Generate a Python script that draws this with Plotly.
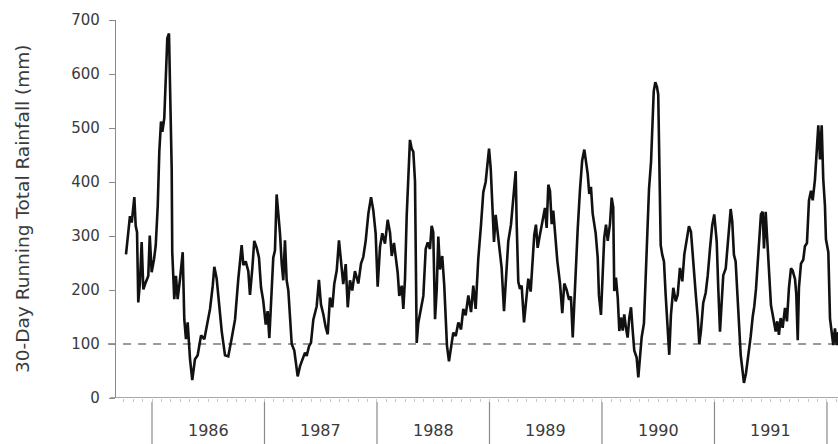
import plotly.graph_objects as go

# 30-day running rainfall totals, sampled along the record (decimal year, mm)
year_pos = [
    1985.769, 1985.804, 1985.820, 1985.843, 1985.855, 1985.867, 1985.878, 1985.893,
    1985.908, 1985.923, 1985.944, 1985.967, 1985.980, 1985.997, 1986.018, 1986.033,
    1986.051, 1986.065, 1986.080, 1986.092, 1986.109, 1986.122, 1986.136, 1986.151,
    1986.160, 1986.175, 1986.180, 1986.189, 1986.198, 1986.213, 1986.228, 1986.249,
    1986.273, 1986.287, 1986.302, 1986.317, 1986.338, 1986.358, 1986.382, 1986.406,
    1986.436, 1986.465, 1986.486, 1986.516, 1986.540, 1986.554, 1986.575, 1986.596,
    1986.620, 1986.649, 1986.678, 1986.708, 1986.738, 1986.767, 1986.797, 1986.812,
    1986.833, 1986.856, 1986.871, 1986.892, 1986.909, 1986.931, 1986.951, 1986.969,
    1986.989, 1987.011, 1987.028, 1987.043, 1987.064, 1987.078, 1987.093, 1987.108,
    1987.123, 1987.138, 1987.153, 1987.167, 1987.182, 1987.197, 1987.212, 1987.227,
    1987.242, 1987.265, 1987.280, 1987.295, 1987.316, 1987.340, 1987.360, 1987.375,
    1987.396, 1987.413, 1987.434, 1987.464, 1987.484, 1987.502, 1987.523, 1987.544,
    1987.562, 1987.582, 1987.603, 1987.620, 1987.642, 1987.662, 1987.680, 1987.700,
    1987.722, 1987.740, 1987.760, 1987.780, 1987.804, 1987.834, 1987.858, 1987.878,
    1987.900, 1987.923, 1987.947, 1987.967, 1987.988, 1988.006, 1988.027, 1988.047,
    1988.071, 1988.095, 1988.116, 1988.131, 1988.151, 1988.166, 1988.184, 1988.198,
    1988.220, 1988.234, 1988.249, 1988.264, 1988.278, 1988.293, 1988.308, 1988.323,
    1988.338, 1988.347, 1988.353, 1988.367, 1988.382, 1988.397, 1988.412, 1988.433,
    1988.451, 1988.471, 1988.486, 1988.500, 1988.516, 1988.531, 1988.545, 1988.560,
    1988.580, 1988.598, 1988.611, 1988.622, 1988.640, 1988.658, 1988.678, 1988.700,
    1988.723, 1988.747, 1988.767, 1988.788, 1988.812, 1988.836, 1988.856, 1988.877,
    1988.900, 1988.924, 1988.945, 1988.966, 1988.984, 1988.996, 1989.011, 1989.025,
    1989.040, 1989.055, 1989.073, 1989.093, 1989.108, 1989.129, 1989.147, 1989.167,
    1989.191, 1989.209, 1989.220, 1989.233, 1989.242, 1989.256, 1989.271, 1989.286,
    1989.307, 1989.324, 1989.345, 1989.366, 1989.380, 1989.398, 1989.413, 1989.428,
    1989.449, 1989.473, 1989.493, 1989.508, 1989.523, 1989.538, 1989.553, 1989.567,
    1989.582, 1989.603, 1989.627, 1989.647, 1989.665, 1989.686, 1989.707, 1989.724,
    1989.740, 1989.760, 1989.784, 1989.804, 1989.824, 1989.843, 1989.858, 1989.873,
    1989.887, 1989.902, 1989.917, 1989.932, 1989.944, 1989.962, 1989.973, 1989.991,
    1990.003, 1990.020, 1990.036, 1990.051, 1990.071, 1990.086, 1990.100, 1990.109,
    1990.124, 1990.140, 1990.154, 1990.169, 1990.184, 1990.198, 1990.213, 1990.228,
    1990.243, 1990.258, 1990.273, 1990.287, 1990.308, 1990.323, 1990.338, 1990.353,
    1990.373, 1990.388, 1990.403, 1990.418, 1990.436, 1990.447, 1990.460, 1990.474,
    1990.489, 1990.500, 1990.509, 1990.522, 1990.536, 1990.551, 1990.566, 1990.584,
    1990.598, 1990.613, 1990.634, 1990.655, 1990.673, 1990.693, 1990.714, 1990.732,
    1990.753, 1990.773, 1990.791, 1990.803, 1990.820, 1990.836, 1990.851, 1990.865,
    1990.880, 1990.900, 1990.922, 1990.940, 1990.960, 1990.980, 1990.998, 1991.020,
    1991.034, 1991.049, 1991.064, 1991.078, 1991.100, 1991.117, 1991.129, 1991.144,
    1991.158, 1991.173, 1991.188, 1991.203, 1991.218, 1991.233, 1991.247, 1991.262,
    1991.280, 1991.300, 1991.322, 1991.340, 1991.354, 1991.369, 1991.384, 1991.398,
    1991.413, 1991.428, 1991.440, 1991.455, 1991.469, 1991.484, 1991.502, 1991.523,
    1991.544, 1991.558, 1991.573, 1991.588, 1991.606, 1991.627, 1991.644, 1991.662,
    1991.680, 1991.695, 1991.716, 1991.727, 1991.740, 1991.751, 1991.769, 1991.789,
    1991.804, 1991.822, 1991.840, 1991.858, 1991.873, 1991.893, 1991.908, 1991.923,
    1991.938, 1991.953, 1991.967, 1991.982, 1991.991, 1992.012, 1992.027, 1992.042,
    1992.056, 1992.071, 1992.086, 1992.100,
]
rain_mm = [
    266, 337, 325, 372, 319, 307, 177, 214,
    289, 201, 214, 226, 301, 233, 257, 282,
    356, 456, 512, 493, 518, 592, 666, 675,
    598, 425, 270, 220, 183, 226, 183, 220,
    270, 146, 109, 140, 72, 33, 72, 79,
    116, 109, 134, 165, 208, 243, 221, 172,
    123, 79, 77, 110, 145, 220, 283, 246,
    253, 235, 191, 241, 291, 278, 260, 205,
    180, 136, 161, 111, 205, 260, 273, 377,
    341, 304, 249, 218, 292, 218, 199, 150,
    100, 88, 64, 40, 59, 72, 84, 78,
    96, 102, 145, 170, 219, 173, 155, 131,
    118, 186, 168, 211, 236, 292, 248, 211,
    248, 168, 218, 199, 235, 212, 249, 261,
    292, 341, 372, 348, 305, 206, 280, 305,
    286, 330, 306, 263, 287, 257, 232, 189,
    208, 165, 220, 337, 418, 478, 462, 456,
    401, 246, 102, 139, 158, 177, 189, 276,
    288, 276, 319, 307, 146, 201, 299, 238,
    263, 208, 153, 97, 68, 97, 121, 115,
    140, 127, 165, 153, 190, 159, 208, 165,
    257, 319, 381, 400, 431, 462, 425, 351,
    289, 339, 302, 272, 241, 161, 229, 290,
    321, 359, 383, 420, 321, 215, 202, 208,
    140, 184, 221, 197, 247, 302, 321, 278,
    303, 327, 352, 315, 395, 383, 322, 347,
    303, 254, 212, 157, 212, 200, 182, 188,
    112, 219, 312, 384, 440, 460, 440, 415,
    378, 391, 342, 324, 305, 260, 190, 154,
    220, 297, 321, 291, 322, 371, 353, 198,
    223, 186, 124, 149, 125, 155, 130, 112,
    149, 168, 125, 88, 75, 38, 76, 113,
    138, 213, 312, 387, 437, 499, 568, 585,
    576, 562, 438, 283, 265, 253, 191, 135,
    80, 154, 204, 179, 191, 241, 216, 266,
    295, 318, 308, 272, 235, 186, 149, 100,
    125, 176, 195, 227, 276, 320, 340, 289,
    202, 123, 177, 227, 240, 289, 308, 350,
    327, 265, 253, 191, 129, 80, 55, 28,
    46, 77, 114, 151, 170, 202, 252, 302,
    340, 345, 277, 345, 296, 228, 172, 148,
    123, 142, 117, 148, 130, 167, 142, 204,
    240, 236, 220, 193, 107, 205, 249, 256,
    281, 287, 366, 384, 366, 404, 460, 505,
    442, 505, 405, 356, 294, 270, 147, 122,
    98, 129, 98, 122,
]

y_ticks = [0, 100, 200, 300, 400, 500, 600, 700]
year_labels = ["1986", "1987", "1988", "1989", "1990", "1991"]
year_bounds = [1986, 1987, 1988, 1989, 1990, 1991, 1992]
threshold_mm = 100

FONT = "DejaVu Sans"
TEXT = "#3a3a3a"
AXIS = "#8a8a8a"

x_range = [1985.68, 1992.098]
plot_h = 378.0

fig = go.Figure()
fig.add_trace(go.Scatter(
    x=year_pos, y=rain_mm, mode="lines",
    line=dict(color="#111111", width=2.6),
    hoverinfo="skip", showlegend=False,
))

shapes = [
    # dashed 100 mm reference level
    dict(type="line", xref="paper", yref="y", x0=-0.011, x1=1,
         y0=threshold_mm, y1=threshold_mm,
         line=dict(color="#7a7a7a", width=1.5, dash="8px,7px"), layer="below"),
    # baseline running slightly past the y axis
    dict(type="line", xref="paper", yref="y", x0=-0.008, x1=1, y0=0, y1=0,
         line=dict(color=AXIS, width=1.6)),
]
# year separators hanging below the axis
for b in year_bounds:
    shapes.append(dict(type="line", xref="x", yref="paper", x0=b, x1=b,
                       y0=-4 / plot_h, y1=-46 / plot_h,
                       line=dict(color=AXIS, width=1.2)))

annotations = [
    dict(text=lab, x=int(lab) + 0.5, xref="x", y=-33 / plot_h, yref="paper",
         showarrow=False, xanchor="center", yanchor="middle",
         font=dict(family=FONT, size=16, color=TEXT))
    for lab in year_labels
]
annotations.append(dict(
    text="30-Day Running Total Rainfall (mm)", textangle=-90,
    x=-94 / 722, xref="paper", y=0.5, yref="paper",
    showarrow=False, xanchor="center", yanchor="middle",
    font=dict(family=FONT, size=18.5, color=TEXT),
))

fig.update_layout(
    width=838, height=444,
    margin=dict(l=116, r=0, t=20, b=46),
    paper_bgcolor="white", plot_bgcolor="white",
    shapes=shapes, annotations=annotations,
    xaxis=dict(range=x_range, showgrid=False, zeroline=False, showline=False,
               ticks="outside", tick0=1986, dtick=1 / 12, ticklen=3,
               tickcolor="#c8c8c8", showticklabels=False),
    yaxis=dict(range=[0, 700], tickvals=y_ticks, showgrid=False, zeroline=False,
               showline=True, linecolor=AXIS, linewidth=1.4,
               ticks="outside", ticklen=6, tickcolor=AXIS,
               ticklabelstandoff=6,
               tickfont=dict(family=FONT, size=15, color=TEXT)),
)

fig.write_html("out.html")
